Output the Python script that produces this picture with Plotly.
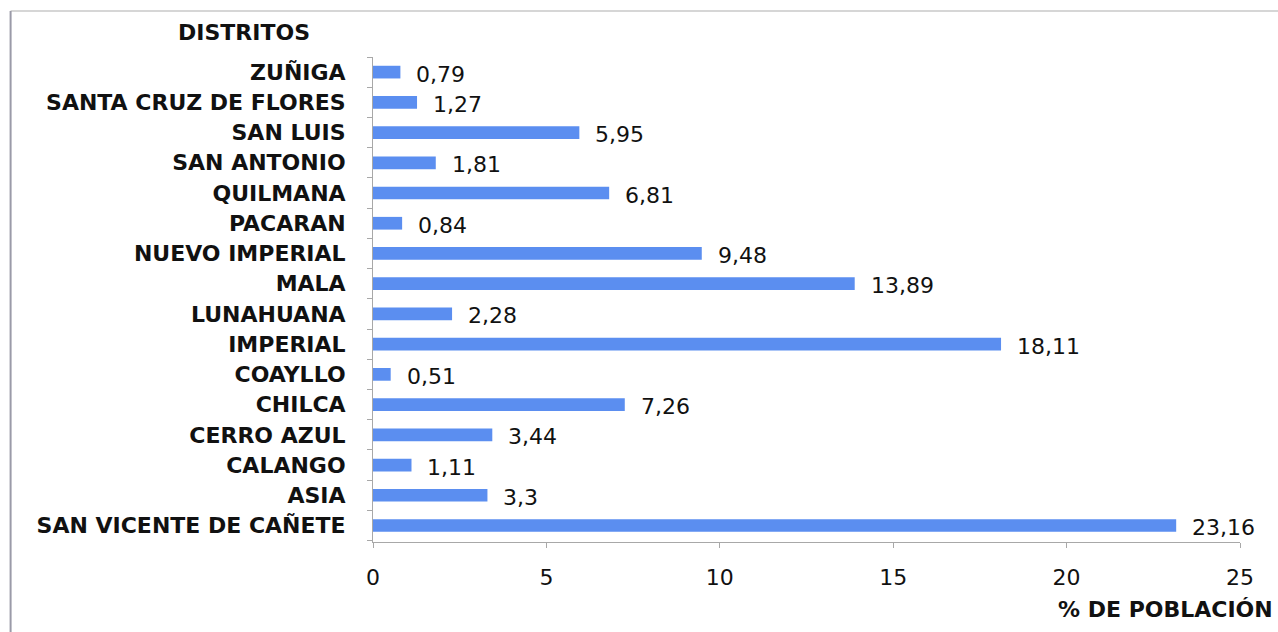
import plotly.graph_objects as go

districts = ["SAN VICENTE DE CAÑETE", "ASIA", "CALANGO", "CERRO AZUL", "CHILCA",
             "COAYLLO", "IMPERIAL", "LUNAHUANA", "MALA", "NUEVO IMPERIAL",
             "PACARAN", "QUILMANA", "SAN ANTONIO", "SAN LUIS",
             "SANTA CRUZ DE FLORES", "ZUÑIGA"]
values = [23.16, 3.3, 1.11, 3.44, 7.26, 0.51, 18.11, 2.28, 13.89, 9.48,
          0.84, 6.81, 1.81, 5.95, 1.27, 0.79]
labels = ["23,16", "3,3", "1,11", "3,44", "7,26", "0,51", "18,11", "2,28", "13,89",
          "9,48", "0,84", "6,81", "1,81", "5,95", "1,27", "0,79"]
x_ticks = [0, 5, 10, 15, 20, 25]

FONT = "DejaVu Sans, sans-serif"
FS = 22

fig = go.Figure(go.Bar(
    y=districts, x=values, orientation="h",
    marker=dict(color="#5B8EF0", line=dict(width=0)),
    width=0.42,
))

for v, d, t in zip(values, districts, labels):
    fig.add_annotation(x=v, y=d, text=t, showarrow=False, xanchor="left",
                       xshift=14, yshift=-2, font=dict(size=FS, color="#111111", family=FONT))

fig.update_layout(
    width=1278, height=632,
    margin=dict(l=373, r=38, t=57, b=90),
    paper_bgcolor="white", plot_bgcolor="white",
    showlegend=False,
    font=dict(family=FONT, size=FS, color="#111111"),
    xaxis=dict(range=[0, 25], tickvals=x_ticks, ticktext=[str(v) for v in x_ticks],
               showgrid=False, zeroline=False, showline=True, linecolor="#A8A8A8",
               linewidth=1, ticks="outside", ticklen=5, tickcolor="#A8A8A8",
               ticklabelstandoff=11, tickfont=dict(size=FS, family=FONT, color="#111111")),
    yaxis=dict(categoryorder="array", categoryarray=districts, showgrid=False,
               showline=True, linecolor="#A8A8A8", linewidth=1, ticks="outside",
               tickson="boundaries", ticklen=5, tickcolor="#A8A8A8",
               ticklabelstandoff=22,
               tickfont=dict(size=FS, family=FONT, color="#111111", weight="bold")),
    shapes=[
        dict(type="line", xref="paper", yref="paper", x0=-0.418, x1=1.05, y0=1.095, y1=1.095,
             line=dict(color="#C8C8C8", width=1.5)),
        dict(type="line", xref="paper", yref="paper", x0=-0.418, x1=-0.418, y0=1.095, y1=-0.2,
             line=dict(color="#9A9AA8", width=2)),
    ],
)

fig.add_annotation(text="<b>DISTRITOS</b>", xref="paper", yref="paper",
                   x=-0.149, y=1.05, xanchor="center", yanchor="middle", showarrow=False,
                   font=dict(size=FS, family=FONT, color="#111111"))
fig.add_annotation(text="<b>% DE POBLACIÓN</b>", xref="paper", yref="paper",
                   x=1.04, y=-0.14, xanchor="right", yanchor="middle", showarrow=False,
                   font=dict(size=FS, family=FONT, color="#111111"))

fig.write_html("out.html")
